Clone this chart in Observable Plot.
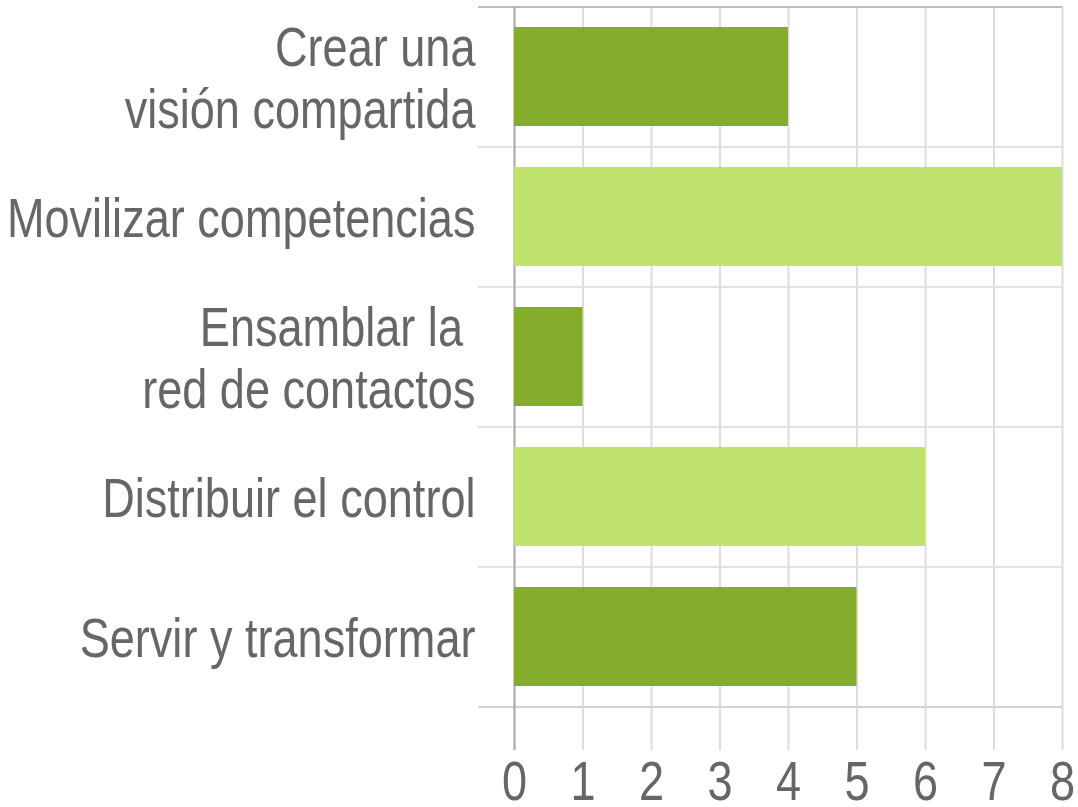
<!DOCTYPE html>
<html><head><meta charset="utf-8">
<script src="https://cdn.jsdelivr.net/npm/d3@7"></script>
<script src="https://cdn.jsdelivr.net/npm/@observablehq/plot@0.6"></script>
<style>body{margin:0;background:#fff;overflow:hidden}</style>
</head><body><div id="chart"></div>
<script>
const categories = ["Crear una\nvisión compartida", "Movilizar competencias", "Ensamblar la \nred de contactos", "Distribuir el control", "Servir y transformar"];
const values = [4, 8, 1, 6, 5];
const shades = ["dark", "light", "dark", "light", "dark"];
const xTicks = [0, 1, 2, 3, 4, 5, 6, 7, 8];
const data = categories.map((c, i) => ({category: c, value: values[i], shade: shades[i]}));

const W = 1078, H = 807, mL = 514, mR = 16, mT = 6, mB = 100;
const step = (H - mT - mB) / categories.length;
const font = "'Liberation Sans', Arial, sans-serif";

const chart = Plot.plot({
  width: W, height: H, marginLeft: mL, marginRight: mR, marginTop: mT, marginBottom: mB,
  style: {fontFamily: font, background: "#fff", color: "#666", overflow: "visible"},
  x: {domain: [0, 8]},
  y: {domain: categories, paddingInner: 0.29, paddingOuter: 0.145},
  color: {domain: ["dark", "light"], range: ["#83ac2a", "#bfe36e"]},
  marks: [
    Plot.gridX(xTicks, {stroke: "#dddddd", strokeOpacity: 1, strokeWidth: 2}),
    Plot.ruleY(categories.slice(1), {y: d => d, dy: -step / 2, stroke: "#e2e2e2", strokeWidth: 2, insetLeft: -36}),
    Plot.ruleY(categories.slice(0, 1), {y: d => d, dy: -step / 2, stroke: "#bdbdbd", strokeWidth: 2, insetLeft: -36}),
    Plot.ruleY(categories.slice(-1), {y: d => d, dy: step / 2, stroke: "#d2d2d2", strokeWidth: 2, insetLeft: -36}),
    Plot.axisX(xTicks, {tickSize: 43, stroke: "#dddddd", strokeOpacity: 1, strokeWidth: 2, tickPadding: 10, fontSize: 55, fill: "#666", label: null, tickFormat: d => String(d)}),
    Plot.ruleX([0], {stroke: "#ababab", strokeWidth: 2, insetBottom: -43}),
    Plot.barX(data, {y: "category", x: "value", fill: "shade"}),
    Plot.axisY({tickSize: 0, tickPadding: 39, fontSize: 55, fill: "#666", lineHeight: 1.13, label: null})
  ]
});
// Narrow the glyphs horizontally (like Liberation Sans Narrow), keeping each label's anchor point
chart.querySelectorAll("text").forEach(t => {
  const tr = t.getAttribute("transform") || "";
  t.setAttribute("transform", tr + " scale(0.82,1)");
});
document.getElementById("chart").append(chart);
</script>
</body></html>
